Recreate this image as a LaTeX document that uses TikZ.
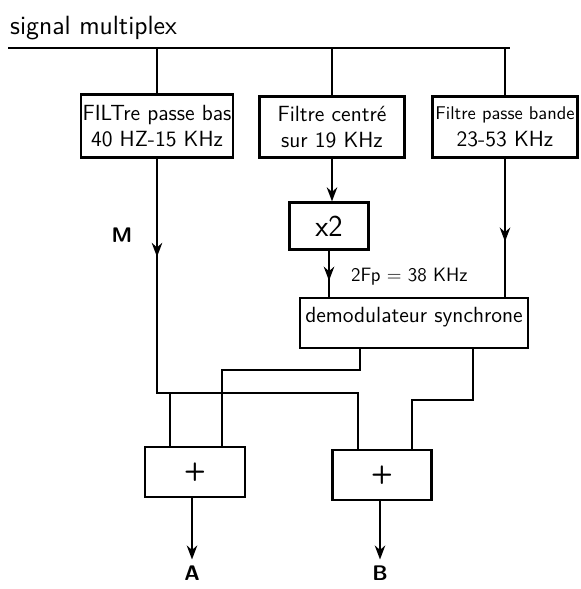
\documentclass[tikz,border=0pt]{standalone}
\usepackage{tikz}
\usetikzlibrary{arrows.meta,decorations.markings}

\tikzset{
  bloc/.style={draw, line width=1.3pt, inner sep=1pt, align=center,
    font=\sffamily\fontsize{12.5}{15}\selectfont},
  fil/.style={line width=1pt},
  midarrow/.style={fil, postaction={decorate}, decoration={markings,
      mark=at position #1 with {\arrow{Stealth[length=8pt,width=6pt]}}}},
  fleche/.style={fil, -{Stealth[length=8pt,width=6pt]}}
}

\begin{document}
\begin{tikzpicture}[x=0.02cm, y=-0.02cm]
  \useasboundingbox (0,0) rectangle (581,589);

  % entree et bus
  \node[font=\sffamily\fontsize{15}{18}\selectfont, anchor=west] (sig) at (4,28) {signal multiplex};
  \coordinate (bus0) at (8,48);
  \coordinate (bus1) at (510,48);
  \draw[fil] (bus0) -- (bus1);

  % les trois filtres
  \node[bloc, minimum width=3cm, minimum height=1.26cm] (f1) at (157,126)
    {FILTre passe bas\\ 40 HZ-15 KHz};
  \node[bloc, minimum width=2.9cm, minimum height=1.22cm] (f2) at (332,127)
    {Filtre centré\\ sur 19 KHz};
  \node[bloc, minimum width=2.9cm, minimum height=1.22cm] (f3) at (505,127)
    {{\fontsize{10.5}{13}\selectfont Filtre passe bande}\\ 23-53 KHz};

  \foreach \f in {f1,f2,f3}
    \draw[fil] (\f.north) -- (\f.north |- bus0);

  % doubleur et demodulateur
  \node[bloc, font=\sffamily\LARGE, minimum width=1.58cm, minimum height=0.94cm] (x2) at (329,226) {x2};
  \node[bloc, font=\sffamily\fontsize{12.5}{14}\selectfont, minimum width=4.56cm,
    minimum height=1cm, text depth=9pt] (demod) at (414,323)
    {demodulateur synchrone};

  \draw[fleche] (f2.south) -- (f2.south |- x2.north);
  \draw[midarrow=0.65] (x2.south) -- (x2.south |- demod.north);
  \node[font=\sffamily\fontsize{11}{13}\selectfont, anchor=west] (fp) at (345,277) {2Fp = 38 KHz};
  \draw[midarrow=0.6] (f3.south) -- (f3.south |- demod.north);

  % sommateurs
  \node[bloc, font=\sffamily\bfseries\Large, minimum width=2cm, minimum height=1cm] (plusA) at (195,472) {+};
  \node[bloc, font=\sffamily\bfseries\Large, minimum width=1.98cm, minimum height=1cm] (plusB) at (382,475) {+};

  % voie M
  \node[font=\sffamily\bfseries\large] (M) at (122,235) {M};
  \coordinate (mA) at (170,393);
  \coordinate (mB) at (358,393);
  \draw[midarrow=0.2] (f1.south) -- (f1.south |- mB) -- (mB) -- (mB |- plusB.north);
  \draw[fil] (mA) -- (mA |- plusA.north);

  % sorties du demodulateur
  \coordinate (dL) at (360,370);
  \coordinate (dA) at (222,370);
  \coordinate (dR) at (473,400);
  \coordinate (dB) at (412,400);
  \draw[fil] (dL |- demod.south) -- (dL) -- (dA) -- (dA |- plusA.north);
  \draw[fil] (dR |- demod.south) -- (dR) -- (dB) -- (dB |- plusB.north);

  % sorties A et B
  \node[font=\sffamily\bfseries\large] (A) at (192,573) {A};
  \node[font=\sffamily\bfseries\large] (B) at (380,573) {B};
  \draw[fleche] (plusA.south -| A) -- (A.north);
  \draw[fleche] (plusB.south -| B) -- (B.north);

\end{tikzpicture}
\end{document}
